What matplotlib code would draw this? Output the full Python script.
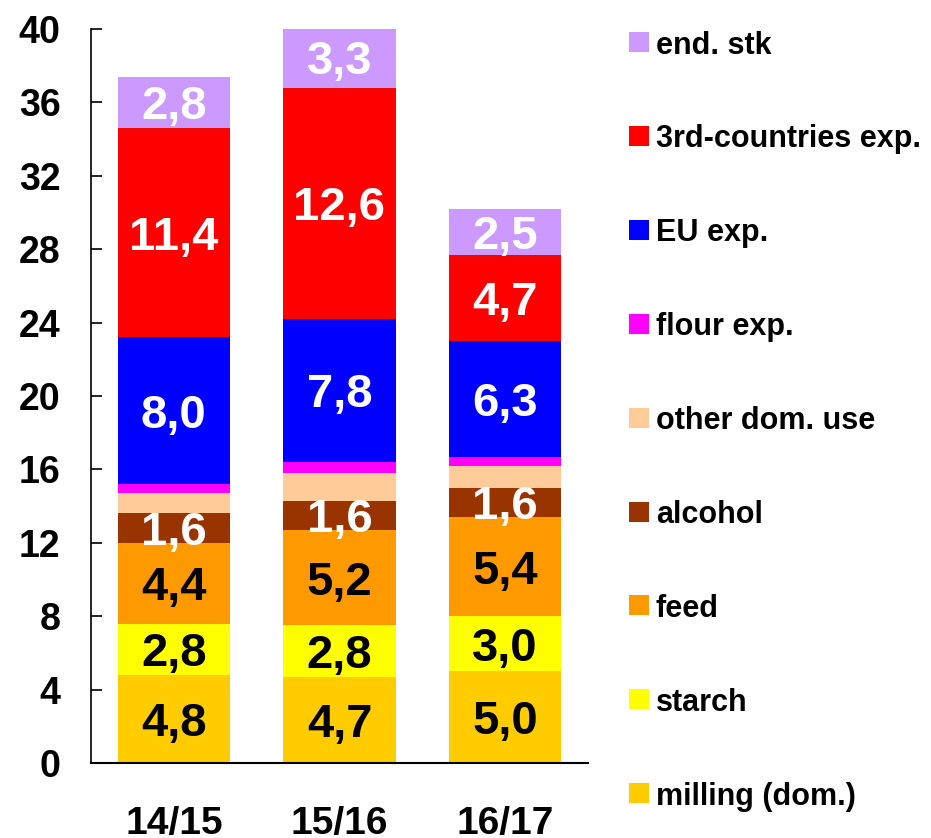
import matplotlib.pyplot as plt
import numpy as np
from matplotlib.patches import Rectangle

plt.rcParams['font.family'] = ['Liberation Sans', 'DejaVu Sans']
plt.rcParams['font.weight'] = 'bold'

years = ["14/15", "15/16", "16/17"]

# bottom -> top
names = ["milling (dom.)", "starch", "feed", "alcohol", "other dom. use",
         "flour exp.", "EU exp.", "3rd-countries exp.", "end. stk"]
milling = [4.8, 4.7, 5.0]
starch = [2.8, 2.8, 3.0]
feed = [4.4, 5.2, 5.4]
alcohol = [1.6, 1.6, 1.6]
other_dom = [1.1, 1.5, 1.2]
flour_exp = [0.5, 0.6, 0.5]
eu_exp = [8.0, 7.8, 6.3]
third_exp = [11.4, 12.6, 4.7]
end_stk = [2.8, 3.3, 2.5]

series = [milling, starch, feed, alcohol, other_dom, flour_exp, eu_exp, third_exp, end_stk]
colors = ["#FFCC00", "#FFFF00", "#FF9900", "#993300", "#FFCC99",
          "#FF00FF", "#0000FF", "#FF0000", "#CC99FF"]
# label colour per series (None = no label)
label_col = ["black", "black", "black", "white", None, None, "white", "white", "white"]

W, H = 931, 838
fig = plt.figure(figsize=(W / 100, H / 100), dpi=100)
ax = fig.add_axes([91 / W, (H - 763) / H, (588 - 91) / W, (763 - 29) / H])

x = np.arange(len(years))
bottom = np.zeros(len(years))
for vals, c, lc in zip(series, colors, label_col):
    vals = np.array(vals)
    ax.bar(x, vals, width=0.68, bottom=bottom, color=c, edgecolor="none")
    if lc is not None:
        for xi, b, v in zip(x, bottom, vals):
            ax.text(xi, b + v / 2, f"{v:.1f}".replace(".", ","), ha="center",
                    va="center_baseline", color=lc, fontsize=34, fontweight="bold")
    bottom += vals

ax.set_xlim(-0.5, 2.5)
ax.set_ylim(0, 40)
ax.set_yticks(np.arange(0, 41, 4))
ax.set_xticks(x)
ax.set_xticklabels(years)
ax.tick_params(axis="y", direction="in", length=8, width=1.2, labelsize=27, pad=22)
ax.tick_params(axis="x", length=0, labelsize=28, pad=31)
for lab in ax.get_xticklabels() + ax.get_yticklabels():
    lab.set_fontweight("bold")
ax.spines["top"].set_visible(False)
ax.spines["right"].set_visible(False)
ax.spines["left"].set_linewidth(1.2)
ax.spines["bottom"].set_linewidth(1.5)

# legend, top entry first
for i, (name, c) in enumerate(zip(names[::-1], colors[::-1])):
    yc = 42 + i * 93.9
    fig.patches.append(Rectangle((629 / W, (H - yc - 10) / H), 20 / W, 20 / H,
                                 transform=fig.transFigure, facecolor=c, edgecolor="none"))
    fig.text(656 / W, (H - yc) / H, name, ha="left", va="center_baseline",
             fontsize=22, fontweight="bold", color="black")

fig.savefig("out.png", dpi=100)
